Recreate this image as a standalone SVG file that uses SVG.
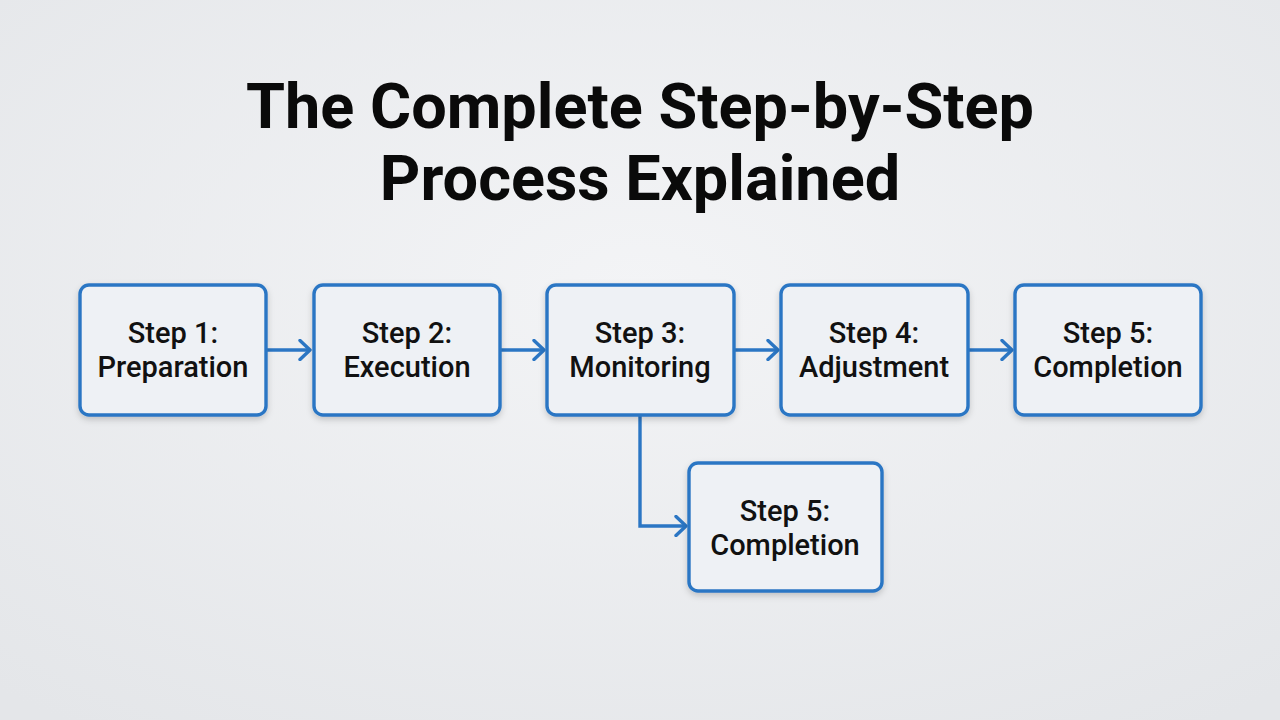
<svg xmlns="http://www.w3.org/2000/svg" width="1280" height="720" viewBox="0 0 1280 720">
<defs>
<radialGradient id="bg" cx="50%" cy="40%" r="75%">
<stop offset="0" stop-color="#f3f4f6"/>
<stop offset="1" stop-color="#e4e6e9"/>
</radialGradient>
<filter id="sh" x="-20%" y="-20%" width="140%" height="150%">
<feDropShadow dx="0" dy="3" stdDeviation="3" flood-color="#000" flood-opacity="0.18"/>
</filter>
<marker id="ah" markerWidth="16" markerHeight="22" refX="13" refY="11" orient="auto" markerUnits="userSpaceOnUse">
<path d="M3,1.5 L13,11 L3,20.5" fill="none" stroke="#2b76c4" stroke-width="3.4" stroke-linecap="round" stroke-linejoin="round"/>
</marker>
</defs>
<style>
.box{fill:#eef1f5;stroke:#2b76c4;stroke-width:3.4;filter:url(#sh)}
.lbl{font-family:Roboto,"Liberation Sans",sans-serif;font-weight:500;font-size:29px;fill:#111;text-anchor:middle}
.title{font-family:Roboto,"Liberation Sans",sans-serif;font-weight:700;font-size:63px;fill:#0a0a0a;text-anchor:middle}
.con{fill:none;stroke:#2b76c4;stroke-width:3.4;marker-end:url(#ah)}
</style>
<rect width="1280" height="720" fill="url(#bg)"/>
<g id="title">
<text class="title" x="640" y="128">The Complete Step-by-Step</text>
<text class="title" x="640" y="200">Process Explained</text>
</g>
<g id="connectors">
<path class="con" d="M266,350 H310"/>
<path class="con" d="M500,350 H544"/>
<path class="con" d="M734,350 H778"/>
<path class="con" d="M968,350 H1012"/>
<path class="con" d="M640,415 V526 H686"/>
</g>
<g id="step1">
<rect class="box" x="80" y="285" width="186" height="130" rx="9"/>
<text class="lbl" x="173" y="343">Step 1:</text>
<text class="lbl" x="173" y="377">Preparation</text>
</g>
<g id="step2">
<rect class="box" x="314" y="285" width="186" height="130" rx="9"/>
<text class="lbl" x="407" y="343">Step 2:</text>
<text class="lbl" x="407" y="377">Execution</text>
</g>
<g id="step3">
<rect class="box" x="547" y="285" width="187" height="130" rx="9"/>
<text class="lbl" x="640" y="343">Step 3:</text>
<text class="lbl" x="640" y="377">Monitoring</text>
</g>
<g id="step4">
<rect class="box" x="781" y="285" width="187" height="130" rx="9"/>
<text class="lbl" x="874" y="343">Step 4:</text>
<text class="lbl" x="874" y="377">Adjustment</text>
</g>
<g id="step5">
<rect class="box" x="1015" y="285" width="186" height="130" rx="9"/>
<text class="lbl" x="1108" y="343">Step 5:</text>
<text class="lbl" x="1108" y="377">Completion</text>
</g>
<g id="step5b">
<rect class="box" x="689" y="463" width="193" height="128" rx="9"/>
<text class="lbl" x="785" y="521">Step 5:</text>
<text class="lbl" x="785" y="555">Completion</text>
</g>
</svg>
